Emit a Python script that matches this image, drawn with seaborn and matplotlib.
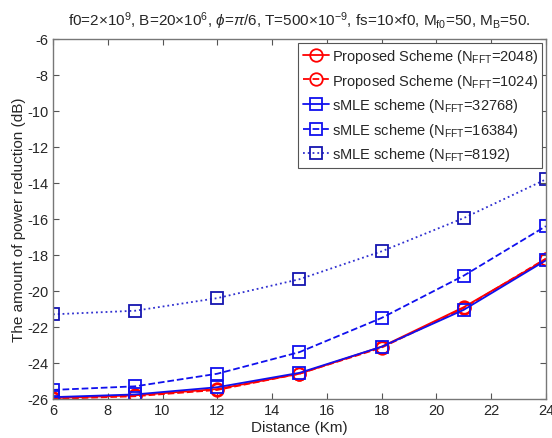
import matplotlib
matplotlib.use("Agg")
import matplotlib.pyplot as plt
import pandas as pd
import seaborn as sns

# Data
distance = [6, 9, 12, 15, 18, 21, 24]
proposed_2048 = [-25.95, -25.8, -25.45, -24.6, -23.1, -20.9, -18.25]
proposed_1024 = [-26.0, -25.85, -25.5, -24.6, -23.15, -20.95, -18.2]
smle_32768 = [-25.9, -25.75, -25.35, -24.55, -23.1, -21.05, -18.3]
smle_16384 = [-25.5, -25.3, -24.6, -23.4, -21.5, -19.15, -16.4]
smle_8192 = [-21.3, -21.1, -20.4, -19.35, -17.8, -15.95, -13.8]

labels = [
    r"Proposed Scheme (N$_{\rm FFT}$=2048)",
    r"Proposed Scheme (N$_{\rm FFT}$=1024)",
    r"sMLE scheme (N$_{\rm FFT}$=32768)",
    r"sMLE scheme (N$_{\rm FFT}$=16384)",
    r"sMLE scheme (N$_{\rm FFT}$=8192)",
]
series = [proposed_2048, proposed_1024, smle_32768, smle_16384, smle_8192]

df = pd.concat(
    [pd.DataFrame({"Distance": distance, "value": s, "scheme": lab}) for s, lab in zip(series, labels)],
    ignore_index=True,
)

sns.set_style("ticks")
plt.rcParams['font.family'] = ['Liberation Sans', 'DejaVu Sans']
plt.rcParams['mathtext.fontset'] = 'custom'
plt.rcParams['mathtext.rm'] = 'Liberation Sans'
plt.rcParams['mathtext.it'] = 'Liberation Sans:italic'
plt.rcParams['axes.unicode_minus'] = False

fig = plt.figure(figsize=(5.52, 4.39), dpi=100)
ax = fig.add_axes([0.096, 0.089, 0.893, 0.82])

styles = [
    dict(color="red", linestyle="-", marker="o", mec="red"),
    dict(color="red", linestyle="--", marker="o", mec="red"),
    dict(color="#1010ee", linestyle="-", marker="s", mec="#1010ee"),
    dict(color="#1010ee", linestyle="--", marker="s", mec="#1010ee"),
    dict(color="#3030d0", linestyle=":", marker="s", mec="#1515b0"),
]

for lab, st in zip(labels, styles):
    sub = df[df["scheme"] == lab]
    sns.lineplot(data=sub, x="Distance", y="value", ax=ax, label=lab,
                 color=st["color"], linestyle=st["linestyle"], marker=st["marker"],
                 markersize=9, markerfacecolor="none", markeredgecolor=st["mec"],
                 markeredgewidth=1.3, linewidth=1.3)

ax.set_xlim(6, 24)
ax.set_ylim(-26, -6)
ax.set_xticks(range(6, 25, 2))
ax.set_yticks(range(-26, -5, 2))
ax.tick_params(direction="in", top=True, right=True, labelsize=10.5, length=4, color="#555555", pad=3)
for sp in ax.spines.values():
    sp.set_color("#777777")
    sp.set_linewidth(1.0)

ax.set_xlabel("Distance (Km)", fontsize=11, labelpad=2)
ax.set_ylabel("The amount of power reduction (dB)", fontsize=11, labelpad=1)
ax.set_title(r"f0=2$\times$10$^{9}$, B=20$\times$10$^{6}$, $\phi$=$\pi$/6, T=500$\times$10$^{-9}$, "
             r"fs=10$\times$f0, M$_{\rm f0}$=50, M$_{\rm B}$=50.", fontsize=11, pad=10)

leg = ax.legend(loc="upper right", fontsize=10.5, frameon=True, fancybox=False,
                edgecolor="#555555", framealpha=1, handlelength=1.8, handletextpad=0.2,
                borderpad=0.3, labelspacing=0.45, borderaxespad=0.25)
leg.get_frame().set_linewidth(0.8)

fig.savefig("out.png", dpi=100)
